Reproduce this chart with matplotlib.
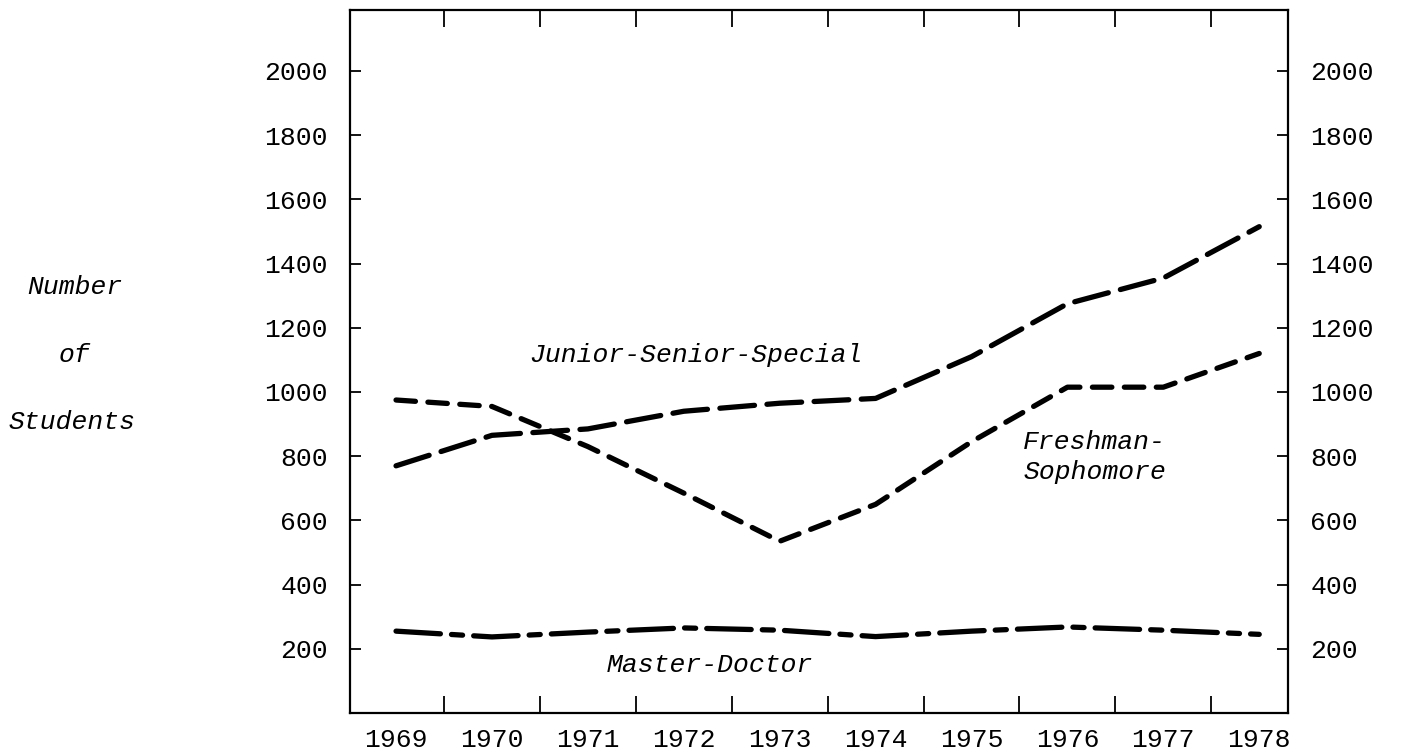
import matplotlib
matplotlib.use("Agg")
import matplotlib.pyplot as plt

years = [1969, 1970, 1971, 1972, 1973, 1974, 1975, 1976, 1977, 1978]
junior_senior_special = [770, 865, 885, 940, 965, 980, 1110, 1275, 1355, 1515]
freshman_sophomore = [975, 955, 830, 685, 535, 650, 845, 1015, 1015, 1120]
master_doctor = [255, 237, 252, 265, 258, 238, 255, 268, 258, 245]
ytick_values = [200, 400, 600, 800, 1000, 1200, 1400, 1600, 1800, 2000]
xtick_minor = [1969.5, 1970.5, 1971.5, 1972.5, 1973.5, 1974.5, 1975.5, 1976.5, 1977.5]

plt.rcParams['lines.scale_dashes'] = False
fig = plt.figure(figsize=(14.2, 7.56), dpi=100)
ax = fig.add_axes([350/1420, 43/756, (1288-350)/1420, (746-43)/756])

num_font = dict(family='Liberation Mono', size=19)
lab_font = dict(family='Liberation Mono', size=19, style='italic')

lw = 3.8
ax.plot(years, junior_senior_special, color='black', lw=lw,
        linestyle=(0, (25, 9)), dash_capstyle='round')
ax.plot(years, freshman_sophomore, color='black', lw=lw,
        linestyle=(0, (14, 9)), dash_capstyle='round')
ax.plot(years, master_doctor, color='black', lw=lw,
        linestyle=(0, (32, 8, 8, 8)), dash_capstyle='round')

ax.set_xlim(1968.52, 1978.3)
ax.set_ylim(0, 2190)

# y ticks on both sides, pointing inward
ax.set_yticks(ytick_values)
ax.set_yticklabels([str(v) for v in ytick_values], fontdict=num_font)
ax.tick_params(axis='y', which='major', direction='in', length=8, width=1.3,
               left=True, right=True, labelleft=True, labelright=True)
for t in ax.yaxis.get_major_ticks():
    t.label1.set_fontfamily('Liberation Mono')
    t.label1.set_fontsize(19)
    t.label2.set_fontfamily('Liberation Mono')
    t.label2.set_fontsize(19)
    t.set_pad(16)

# x: year labels with no tick marks, tick marks at half years top and bottom
ax.set_xticks(years)
ax.set_xticklabels([str(y) for y in years], fontdict=num_font)
ax.tick_params(axis='x', which='major', length=0, pad=11)
ax.set_xticks(xtick_minor, minor=True)
ax.tick_params(axis='x', which='minor', direction='in', length=12, width=1.3,
               top=True, bottom=True)

for s in ax.spines.values():
    s.set_linewidth(1.6)

# series labels
ax.text(1970.39, 1115, 'Junior-Senior-Special', ha='left', va='center', **lab_font)
ax.text(1975.54, 845, 'Freshman-', ha='left', va='center', **lab_font)
ax.text(1975.54, 750, 'Sophomore', ha='left', va='center', **lab_font)
ax.text(1971.2, 148, 'Master-Doctor', ha='left', va='center', **lab_font)

# y axis title (stacked words)
fig.text(75/1420, 1 - 287/756, 'Number', ha='center', va='center', **lab_font)
fig.text(74/1420, 1 - 355/756, 'of', ha='center', va='center', **lab_font)
fig.text(72/1420, 1 - 422/756, 'Students', ha='center', va='center', **lab_font)

fig.savefig('out.png', dpi=100)
